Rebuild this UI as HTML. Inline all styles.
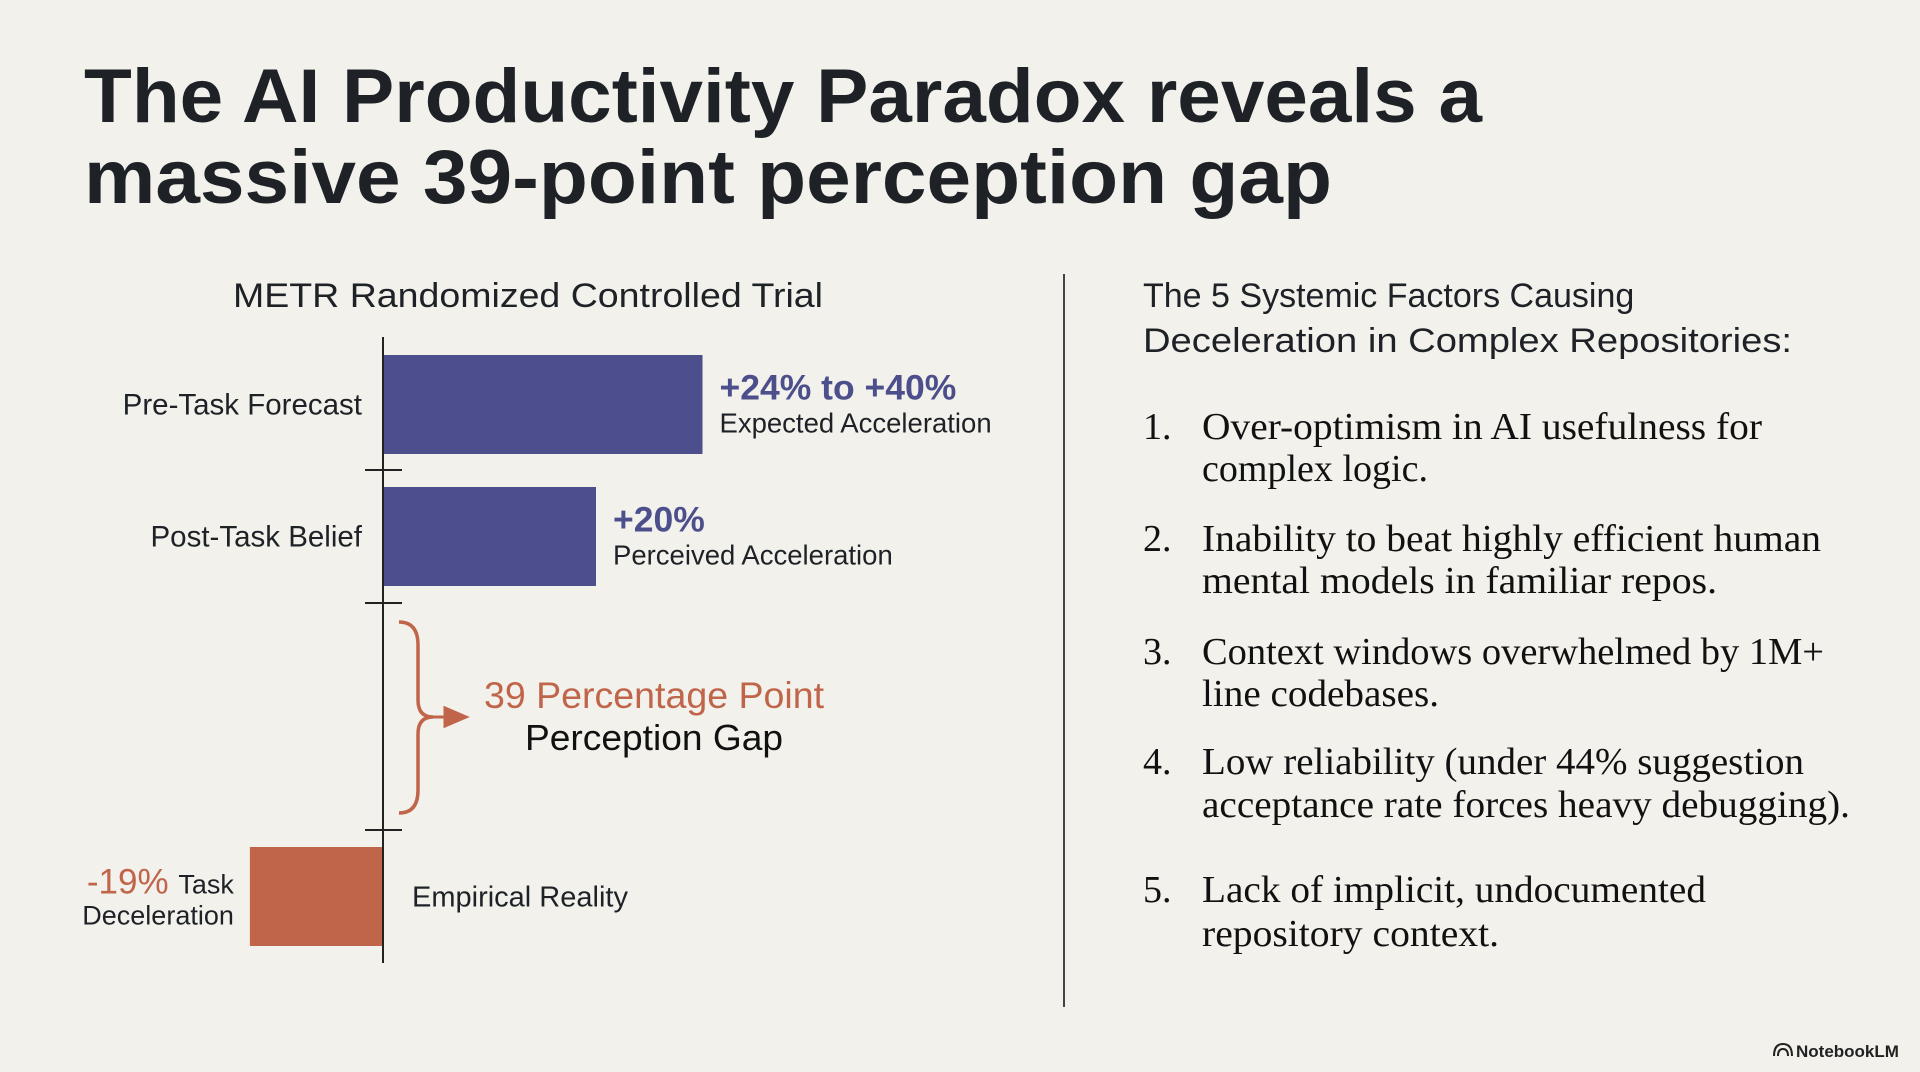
<!DOCTYPE html>
<html><head><meta charset="utf-8"><style>
html,body{margin:0;padding:0;background:#f2f1ec;}
svg{display:block;}
.sans{font-family:"Liberation Sans",sans-serif;}
.serif{font-family:"Liberation Serif",serif;}
</style></head><body>
<svg id="slide" width="1920" height="1072" viewBox="0 0 1920 1072" xmlns="http://www.w3.org/2000/svg">
<rect x="0" y="0" width="1920" height="1072" fill="#f2f1ec"/>
<g class="sans" font-weight="bold" fill="#1e2227" font-size="76">
<text x="84" y="122" textLength="1398" lengthAdjust="spacingAndGlyphs">The AI Productivity Paradox reveals a</text>
<text x="84" y="203" textLength="1248" lengthAdjust="spacingAndGlyphs">massive 39-point perception gap</text>
</g>
<text class="sans" x="233" y="307" font-size="34" fill="#1e2227" textLength="590" lengthAdjust="spacingAndGlyphs">METR Randomized Controlled Trial</text>
<g id="chart"></g>
<g>
<path d="M399 622 Q418 622 418 645 L418 700 Q418 717 433 717 Q418 717 418 734 L418 790 Q418 813 399 813" fill="none" stroke="#c0654a" stroke-width="3.5"/>
<path d="M433 717 L452 717 M445 708 L466 717 L445 726 Z" fill="#c0654a" stroke="#c0654a" stroke-width="3"/>
<text class="sans" x="654" y="708" font-size="37" fill="#c0654a" text-anchor="middle" textLength="340" lengthAdjust="spacingAndGlyphs">39 Percentage Point</text>
<text class="sans" x="654" y="750" font-size="36" fill="#111" text-anchor="middle" textLength="258" lengthAdjust="spacingAndGlyphs">Perception Gap</text>
</g>
<line x1="1064" y1="274" x2="1064" y2="1007" stroke="#444" stroke-width="2"/>
<g class="sans" font-size="34" fill="#1e2227">
<text x="1143" y="307">The 5 Systemic Factors Causing</text>
<text x="1143" y="352" textLength="649" lengthAdjust="spacingAndGlyphs">Deceleration in Complex Repositories:</text>
</g>
<g class="serif" font-size="38" fill="#111">
<g><text x="1143" y="439">1.</text><text x="1202" y="439" textLength="560" lengthAdjust="spacingAndGlyphs">Over-optimism in AI usefulness for</text><text x="1202" y="481" textLength="226" lengthAdjust="spacingAndGlyphs">complex logic.</text></g>
<g><text x="1143" y="551">2.</text><text x="1202" y="551" textLength="619" lengthAdjust="spacingAndGlyphs">Inability to beat highly efficient human</text><text x="1202" y="593" textLength="515" lengthAdjust="spacingAndGlyphs">mental models in familiar repos.</text></g>
<g><text x="1143" y="664">3.</text><text x="1202" y="664" textLength="622" lengthAdjust="spacingAndGlyphs">Context windows overwhelmed by 1M+</text><text x="1202" y="706" textLength="237" lengthAdjust="spacingAndGlyphs">line codebases.</text></g>
<g><text x="1143" y="774">4.</text><text x="1202" y="774" textLength="602" lengthAdjust="spacingAndGlyphs">Low reliability (under 44% suggestion</text><text x="1202" y="817" textLength="648" lengthAdjust="spacingAndGlyphs">acceptance rate forces heavy debugging).</text></g>
<g><text x="1143" y="902">5.</text><text x="1202" y="902" textLength="504" lengthAdjust="spacingAndGlyphs">Lack of implicit, undocumented</text><text x="1202" y="946" textLength="297" lengthAdjust="spacingAndGlyphs">repository context.</text></g>
</g>
<g>
<path d="M1774 1056 Q1774 1044 1783 1044 Q1792 1044 1792 1056 M1778 1056 Q1778 1049 1783 1049 Q1788 1049 1788 1056" fill="none" stroke="#222" stroke-width="2"/>
<text class="sans" x="1796" y="1057" font-size="17" font-weight="bold" fill="#222">NotebookLM</text>
</g>
</svg>
<script>
const categories = ["Pre-Task Forecast", "Post-Task Belief", "Empirical Reality"];
const values = [30, 20, -12.5];
const valueLabels = ["+24% to +40%", "+20%", "-19%"];
const subLabels = ["Expected Acceleration", "Perceived Acceleration", "Task"];
const NS = "http://www.w3.org/2000/svg";
const g = document.getElementById('chart');
const x0 = 383, pxPer = 10.65;
const xScale = v => x0 + v * pxPer;
const bandTop = [355, 487, 847];
const bandH = 99;
function mk(tag, attrs, text) {
  const e = document.createElementNS(NS, tag);
  for (const k in attrs) e.setAttribute(k, attrs[k]);
  if (text !== undefined) e.textContent = text;
  g.appendChild(e);
  return e;
}
values.forEach((v, i) => {
  const x1 = Math.min(xScale(0), xScale(v)), x2 = Math.max(xScale(0), xScale(v));
  const r = mk('rect', {x: x1, y: bandTop[i], width: x2 - x1, height: bandH, fill: v >= 0 ? '#4d4f8c' : '#c0654a'});
  
  
  const cy = bandTop[i] + bandH / 2;
  if (v >= 0) {
    const c = mk('text', {x: 362, y: cy + 10, 'font-size': 29.5, fill: '#1e2227', 'text-anchor': 'end', 'font-family': 'Liberation Sans, sans-serif'}, categories[i]);
    
    
    const vl = mk('text', {x: x2 + 17, y: cy - 5, 'font-size': 35.5, fill: '#4d4f8c', 'font-weight': 'bold', 'font-family': 'Liberation Sans, sans-serif'}, valueLabels[i]);
    
    
    const sl = mk('text', {x: x2 + 17, y: cy + 28, 'font-size': 27.5, fill: '#1e2227', 'font-family': 'Liberation Sans, sans-serif'}, subLabels[i]);
    
    
  } else {
    const c = mk('text', {x: 412, y: cy + 10, 'font-size': 29, fill: '#1e2227', 'font-family': 'Liberation Sans, sans-serif'}, categories[i]);
    
    
    const t = mk('text', {x: x1 - 16, y: cy - 3, 'font-size': 27, fill: '#1e2227', 'text-anchor': 'end', 'font-family': 'Liberation Sans, sans-serif'});
    
    
    const ts = document.createElementNS(NS, 'tspan');
    ts.setAttribute('fill', '#c0654a'); ts.setAttribute('font-size', '35');
    ts.textContent = valueLabels[i] + ' ';
    t.appendChild(ts);
    t.appendChild(document.createTextNode(subLabels[i]));
    const d = mk('text', {x: x1 - 16, y: cy + 28, 'font-size': 27, fill: '#1e2227', 'text-anchor': 'end', 'font-family': 'Liberation Sans, sans-serif'}, 'Deceleration');
    
    
  }
});
[470, 603, 830].forEach(y => {
  const t = mk('line', {x1: 365, x2: 402, y1: y, y2: y, stroke: '#222', 'stroke-width': 2});
  
  
});
const ax = mk('line', {x1: x0, x2: x0, y1: 337, y2: 963, stroke: '#222', 'stroke-width': 2});


</script>
</body></html>
